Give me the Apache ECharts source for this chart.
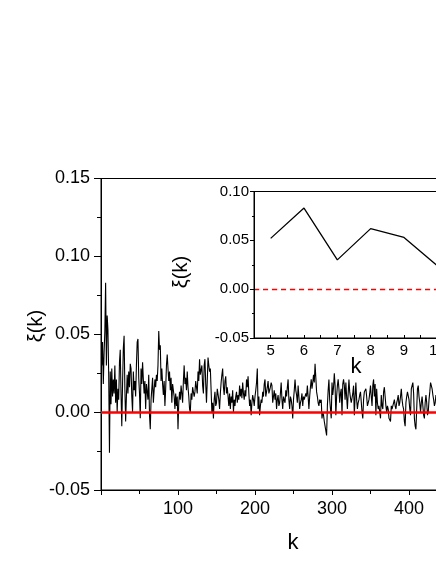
<!DOCTYPE html>
<html><head><meta charset="utf-8">
<script src="https://cdn.jsdelivr.net/npm/echarts@6/dist/echarts.min.js"></script>
<style>html,body{margin:0;padding:0;background:#fff}#c{width:436px;height:564px}</style>
</head><body><div id="c"></div>
<script>
// main series xi(k), k = 1,2,3,...
const xiSeg1 = [0.030,0.045,0.018,0.038,0.052,0.083,0.030,0.062,0.053,0.024,-0.026,0.026,0.005,0.028,0.010,0.021,0.012,0.030,0.006,0.021,0.000,0.015,0.008,0.032,0.040,0.012,-0.009,0.018,0.041,0.049,0.015,-0.006,0.010,0.024,0.012,0.026,0.016,0.031,0.028,0.010,0.000,0.026,0.014,0.020,0.010,0.030,0.045,0.047,0.022,0.012,-0.004,0.028,0.018,0.032,0.021,0.012,0.020,0.002,0.018,0.013,0.008,0.024,-0.002,-0.011,0.008,0.015,0.022,0.006,0.014,0.021,0.016,0.024,0.020,0.030,0.052,0.040,0.043,0.020,0.028,0.018,0.011,0.020,0.004,0.015,0.030,0.037,0.028];
const xiSeg2 = [0.020,0.026,0.014,0.022,0.006,0.018,0.019,0.010,0.002,0.012,0.004,0.010,-0.011,0.006,0.013,0.008,0.017,0.012,0.006,0.020,0.030,0.018,0.022,0.014,0.026,0.016,0.010,0.002,0.000,0.012,0.008,0.016,0.017,0.010,0.013,0.020,0.019,0.012,0.026,0.020,0.034,0.024,0.023,0.030,0.017,0.012,0.030,0.034,0.018,0.006,0.020,0.035,0.030,0.026,0.028,0.014,0.000,0.006,-0.004,0.008,0.013,0.004,0.006,0.015,0.014,0.008,0.002,0.012,0.019,0.024,0.028,0.016,0.011,0.020,0.023,0.012,0.016,0.010,0.004,0.012,0.002,0.010,0.006,0.014,0.000,0.008,0.004];
const xiSeg3 = [0.010,0.013,0.006,0.011,0.008,0.017,0.010,0.015,0.009,0.019,0.012,0.008,0.014,0.010,0.021,0.016,0.023,0.012,0.004,0.008,-0.002,0.006,0.011,0.008,0.004,0.010,0.014,0.019,0.028,0.002,0.010,-0.002,0.004,0.008,0.006,0.013,0.010,0.018,0.021,0.010,0.013,0.016,0.020,0.012,0.011,0.016,0.019,0.017,0.006,0.010,0.014,0.008,0.012,0.002,0.008,0.011,0.004,0.006,0.012,0.019,0.008,0.002,0.010,0.011,0.006,0.014,0.010,0.016,0.021,0.008,0.002,0.010,0.008,0.004,-0.004,0.008,0.014,0.021,0.014,0.011,0.006,0.017,0.010,0.002,0.006,0.008,0.012,0.004,0.010,0.008];
const xiSeg4 = [0.008,0.012,0.010,0.017,0.010,0.002,0.010,0.016,0.021,0.015,0.019,0.024,0.019,0.031,0.022,0.013,0.010,0.006,0.004,0.008,0.006,0.008,-0.004,0.000,-0.002,-0.006,-0.009,-0.010,-0.015,0.004,0.014,0.021,0.008,0.002,-0.004,0.019,0.011,0.016,0.025,0.017,-0.002,0.010,0.017,0.021,0.015,0.006,0.012,0.015,-0.002,0.018,0.021,0.017,0.008,0.019,0.010,0.002,0.012,0.021,0.013,0.009,0.006,0.006,0.012,0.017,-0.002,0.010,0.019,0.008,0.002,0.006,0.008,0.011,0.013,0.012,0.000,-0.004,0.008,0.013,0.014,0.015,0.010,0.004,0.006,0.008,0.012,0.017,0.010,0.004];
const xiSeg5 = [0.017,0.021,0.010,0.018,-0.002,0.015,0.006,0.002,0.004,0.004,-0.004,0.011,0.004,0.002,0.013,0.016,0.010,0.004,0.000,0.004,0.002,-0.004,-0.004,-0.006,0.004,0.002,0.004,0.006,0.008,0.004,0.002,0.006,0.008,0.011,0.004,0.006,0.010,0.015,0.008,0.004,0.002,-0.006,-0.009,0.006,0.010,0.013,0.014,0.008,0.002,-0.002,0.015,0.017,0.019,0.012,-0.004,-0.009,-0.011,0.002,0.015,0.017,0.010,0.006,0.000,0.006,0.010,0.004,-0.002,-0.004,0.006,0.011,0.006,-0.002,0.000,0.008,0.013,0.019,0.017,0.015,0.011,0.008,0.004,0.006,0.011,0.008,0.012,0.004,0.010,0.006];
const xiMain = [].concat(xiSeg1, xiSeg2, xiSeg3, xiSeg4, xiSeg5);
const kMain = xiMain.map((_, i) => i + 1);

// inset (zoom on k = 5..10)
const insetK = [5, 6, 7, 8, 9, 10];
const insetXi = [0.052, 0.083, 0.030, 0.062, 0.053, 0.024];

const insetXLabels = [5, 6, 7, 8, 9, 10];

const FONT = 'Liberation Sans, Arial, sans-serif';
const chart = echarts.init(document.getElementById('c'), null, {renderer: 'canvas'});
const fmt2 = v => (Math.abs(v) < 1e-9 ? '0.00' : v.toFixed(2));

chart.setOption({
  backgroundColor: '#fff',
  animation: false,
  grid: [
    {left: 101, top: 178.5, width: 385, height: 311.5, show: true, borderColor: '#000', borderWidth: 1,
     backgroundColor: 'transparent', containLabel: false, outerBoundsMode: 'none'},
    {left: 254, top: 191.5, width: 200, height: 146.5, show: true, borderColor: '#000', borderWidth: 1,
     backgroundColor: '#fff', z: 5, containLabel: false, outerBoundsMode: 'none'}
  ],
  xAxis: [
    {gridIndex: 0, type: 'value', min: 0, max: 500, interval: 100,
     axisLine: {onZero: false, lineStyle: {color: '#000', width: 1}},
     axisTick: {show: true, inside: false, length: 5, lineStyle: {color: '#000'}},
     minorTick: {show: true, splitNumber: 2, length: 4, lineStyle: {color: '#000'}},
     splitLine: {show: false},
     axisLabel: {color: '#000', fontSize: 18, fontFamily: FONT, margin: 10,
                 formatter: v => (v === 0 ? '' : String(v))}},
    {gridIndex: 1, type: 'value', min: 4.5, max: 10.5, z: 6,
     axisLine: {onZero: false, lineStyle: {color: '#000', width: 1}},
     axisTick: {show: true, inside: true, length: 3, customValues: [5,5.5,6,6.5,7,7.5,8,8.5,9,9.5,10,10.5], lineStyle: {color: '#000'}},
     splitLine: {show: false},
     axisLabel: {color: '#000', fontSize: 15, fontFamily: FONT, margin: 5, customValues: insetXLabels}}
  ],
  yAxis: [
    {gridIndex: 0, type: 'value', min: -0.05, max: 0.15, interval: 0.05,
     axisLine: {show: true, onZero: false, lineStyle: {color: '#000', width: 1}},
     axisTick: {show: true, inside: false, length: 7, lineStyle: {color: '#000'}},
     minorTick: {show: true, splitNumber: 2, length: 4, lineStyle: {color: '#000'}},
     splitLine: {show: false},
     axisLabel: {color: '#000', fontSize: 18, fontFamily: FONT, margin: 11, formatter: fmt2}},
    {gridIndex: 1, type: 'value', min: -0.05, max: 0.10, interval: 0.05, z: 6,
     axisLine: {show: true, onZero: false, lineStyle: {color: '#000', width: 1}},
     axisTick: {show: true, inside: false, length: 4, lineStyle: {color: '#000'}},
     minorTick: {show: true, splitNumber: 2, length: 2, lineStyle: {color: '#000'}},
     splitLine: {show: false},
     axisLabel: {color: '#000', fontSize: 15, fontFamily: FONT, margin: 5, formatter: fmt2}}
  ],
  series: [
    {type: 'line', xAxisIndex: 0, yAxisIndex: 0, data: kMain.map((k, i) => [k, xiMain[i]]),
     showSymbol: false, symbol: 'none', lineStyle: {color: '#000', width: 1.1}, z: 2},
    {type: 'line', xAxisIndex: 0, yAxisIndex: 0, data: [], z: 3,
     markLine: {silent: true, symbol: 'none', label: {show: false},
                lineStyle: {color: '#ff0000', width: 2.5, type: 'solid'}, data: [{yAxis: 0}]}},
    {type: 'line', xAxisIndex: 1, yAxisIndex: 1, data: insetK.map((k, i) => [k, insetXi[i]]),
     showSymbol: false, symbol: 'none', lineStyle: {color: '#000', width: 1.3}, z: 7,
     markLine: {silent: true, symbol: 'none', label: {show: false},
                lineStyle: {color: '#ff0000', width: 1.3, type: [5, 4]}, data: [{yAxis: 0}]}}
  ],
  graphic: [
    {type: 'text', x: 36, y: 326, rotation: Math.PI / 2, z: 10,
     style: {text: 'ξ(k)', fontSize: 20, fontFamily: FONT, fill: '#000', align: 'center', verticalAlign: 'middle'}},
    {type: 'text', x: 293, y: 543, z: 10,
     style: {text: 'k', fontSize: 22, fontFamily: FONT, fill: '#000', align: 'center', verticalAlign: 'middle'}},
    {type: 'text', x: 181, y: 272, rotation: Math.PI / 2, z: 10,
     style: {text: 'ξ(k)', fontSize: 20, fontFamily: FONT, fill: '#000', align: 'center', verticalAlign: 'middle'}},
    {type: 'text', x: 356, y: 367, z: 10,
     style: {text: 'k', fontSize: 22, fontFamily: FONT, fill: '#000', align: 'center', verticalAlign: 'middle'}}
  ]
});
</script>
</body></html>
